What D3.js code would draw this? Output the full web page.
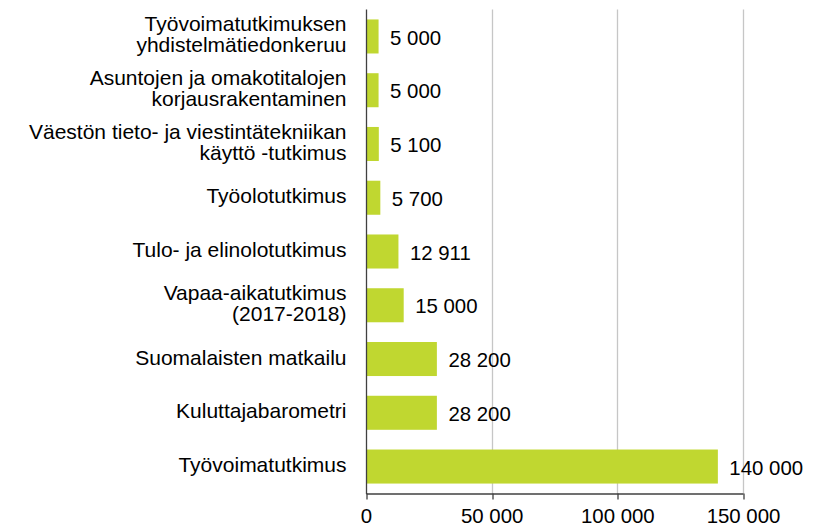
<!DOCTYPE html>
<html>
<head>
<meta charset="utf-8">
<script src="https://cdn.jsdelivr.net/npm/d3@7"></script>
<style>
  html, body { margin: 0; padding: 0; background: #ffffff; }
  svg { display: block; font-family: "Liberation Sans", Arial, sans-serif; }
</style>
</head>
<body>
<svg id="chart" width="815" height="528"></svg>
<script>
const categories = [
  "Työvoimatutkimuksen\nyhdistelmätiedonkeruu",
  "Asuntojen ja omakotitalojen\nkorjausrakentaminen",
  "Väestön tieto- ja viestintätekniikan\nkäyttö -tutkimus",
  "Työolotutkimus",
  "Tulo- ja elinolotutkimus",
  "Vapaa-aikatutkimus\n(2017-2018)",
  "Suomalaisten matkailu",
  "Kuluttajabarometri",
  "Työvoimatutkimus"
];
const values = [5000, 5000, 5100, 5700, 12911, 15000, 28200, 28200, 140000];
const xTicks = [0, 50000, 100000, 150000];

const labelFont = 21;
const numFont = 20.4;
const barColor = "#c0d730";
const svg = d3.select("#chart");

const locale = d3.formatLocale({ decimal: ",", thousands: " ", grouping: [3], currency: ["", ""] });
const fmt = locale.format(",d");

const x = d3.scaleLinear().domain([0, 150000]).range([366, 743]);
const y = d3.scaleBand().domain(categories).range([9.5, 493.5]).paddingInner(0.367).paddingOuter(0.185);

// gridlines
svg.append("g").selectAll("line").data(xTicks.slice(1)).join("line")
  .attr("x1", d => Math.round(x(d)) + 0.5).attr("x2", d => Math.round(x(d)) + 0.5)
  .attr("y1", 9.5).attr("y2", 493.5)
  .attr("stroke", "#c6c6c6").attr("stroke-width", 1.3);

// bars
svg.append("g").selectAll("rect").data(values).join("rect")
  .attr("x", x(0))
  .attr("y", (d, i) => y(categories[i]))
  .attr("width", d => x(d) - x(0))
  .attr("height", y.bandwidth())
  .attr("fill", barColor);

// value labels
svg.append("g").selectAll("text").data(values).join("text")
  .attr("x", d => x(d) + 11.5)
  .attr("y", (d, i) => y(categories[i]) + y.bandwidth() / 2)
  .attr("dy", "0.4em")
  .attr("font-size", numFont)
  .attr("fill", "#000")
  .text(d => fmt(d));

// bottom axis
const xAxis = d3.axisBottom(x).tickValues(xTicks).tickSize(6).tickSizeOuter(0).tickPadding(9).tickFormat(fmt);
const gx = svg.append("g").attr("transform", "translate(0,493.5)").call(xAxis);
gx.select(".domain").attr("stroke", "#404040").attr("stroke-width", 1.3);
gx.selectAll(".tick line").attr("stroke", "#404040").attr("stroke-width", 1.3)
  .attr("transform", d => `translate(${Math.round(x(d)) + 0.5 - x(d)},0)`);
gx.selectAll(".tick text").attr("font-size", numFont).attr("font-family", "\"Liberation Sans\", Arial, sans-serif").attr("fill", "#000");

// left axis line
svg.append("line")
  .attr("x1", 366.5).attr("x2", 366.5).attr("y1", 9.5).attr("y2", 494)
  .attr("stroke", "#404040").attr("stroke-width", 1.3);

// category labels
const lineH = 21;
const labels = svg.append("g").selectAll("text").data(categories).join("text")
  .attr("text-anchor", "end")
  .attr("font-size", labelFont)
  .attr("fill", "#000")
  .attr("x", 346.5)
  .attr("y", d => y(d) + y.bandwidth() / 2);
labels.each(function(d) {
  const lines = d.split("\n");
  const t = d3.select(this);
  const c = +t.attr("y");
  lines.forEach((ln, k) => {
    t.append("tspan")
      .attr("x", 346.5)
      .attr("y", c + (k - (lines.length - 1) / 2) * lineH + 5.5)
      .text(ln);
  });
});
</script>
</body>
</html>
